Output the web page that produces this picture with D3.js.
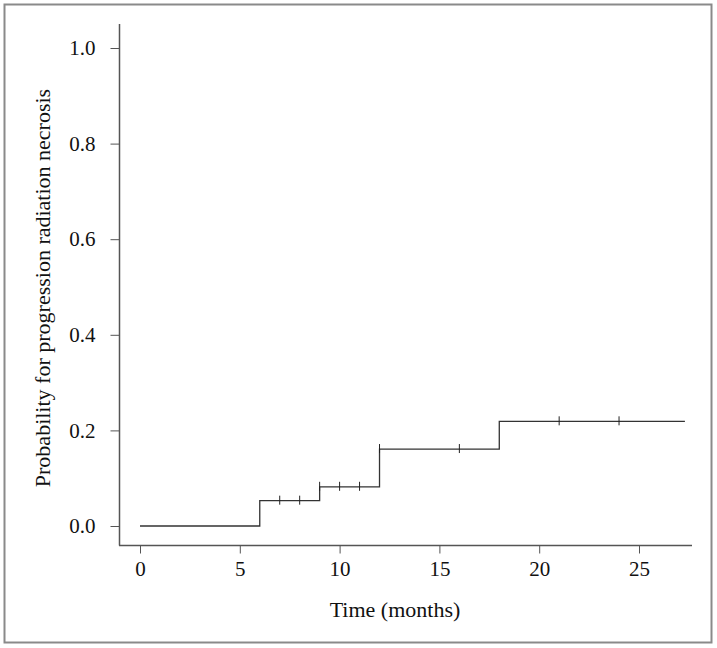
<!DOCTYPE html>
<html>
<head>
<meta charset="utf-8">
<script src="https://cdn.jsdelivr.net/npm/d3@7"></script>
<style>
  body { margin: 0; background: #fff; }
  text { font-family: "Liberation Serif", "Times New Roman", serif; fill: #111; }
</style>
</head>
<body>
<svg id="chart" width="717" height="648"></svg>
<script>
// step curve: time where each step starts, and the probability after it
const stepTimes = [0, 6, 9, 12, 18];
const stepProbs = [0, 0.053, 0.082, 0.161, 0.219];
const endTime = 27.3;

// censored observations (time)
const censorTimes = [7, 8, 9, 10, 11, 12, 16, 21, 24];

const xTicks = [0, 5, 10, 15, 20, 25];
const yTicks = [0, 0.2, 0.4, 0.6, 0.8, 1.0];

const svg = d3.select("#chart");

// outer frame
svg.append("rect")
  .attr("x", 4.5).attr("y", 4.5)
  .attr("width", 707).attr("height", 638)
  .attr("fill", "none").attr("stroke", "#8a8a8a").attr("stroke-width", 2);

const x = d3.scaleLinear().domain([0, 25]).range([140, 639]);
const y = d3.scaleLinear().domain([0, 1]).range([526, 48]);

const axisColor = "#555";

// axis lines (L shape)
svg.append("line")
  .attr("x1", 119.5).attr("x2", 119.5).attr("y1", 24).attr("y2", 545.5)
  .attr("stroke", axisColor).attr("stroke-width", 1.5);
svg.append("line")
  .attr("x1", 119).attr("x2", 692).attr("y1", 545.5).attr("y2", 545.5)
  .attr("stroke", axisColor).attr("stroke-width", 1.5);

// x axis
const xAxis = svg.append("g").attr("transform", "translate(0,545.5)")
  .call(d3.axisBottom(x).tickValues(xTicks).tickSize(8).tickPadding(8).tickFormat(d3.format("d")));
xAxis.select(".domain").remove();
xAxis.selectAll(".tick line").attr("stroke", axisColor);
xAxis.selectAll(".tick text").attr("font-size", 21).attr("fill", "#111")
  .style("font-family", "'Liberation Serif', serif");

// y axis
const yAxis = svg.append("g").attr("transform", "translate(119.5,0)")
  .call(d3.axisLeft(y).tickValues(yTicks).tickSize(9).tickPadding(15).tickFormat(d3.format(".1f")));
yAxis.select(".domain").remove();
yAxis.selectAll(".tick line").attr("stroke", axisColor);
yAxis.selectAll(".tick text").attr("font-size", 21).attr("fill", "#111")
  .style("font-family", "'Liberation Serif', serif");

// axis titles
svg.append("text")
  .attr("x", 395).attr("y", 617)
  .attr("text-anchor", "middle").attr("font-size", 22)
  .text("Time (months)");
svg.append("text")
  .attr("transform", "translate(50,288) rotate(-90)")
  .attr("text-anchor", "middle").attr("font-size", 22)
  .text("Probability for progression radiation necrosis");

// step line
const pts = stepTimes.map((t, i) => [t, stepProbs[i]]);
pts.push([endTime, stepProbs[stepProbs.length - 1]]);
const line = d3.line().x(d => x(d[0])).y(d => y(d[1])).curve(d3.curveStepAfter);
svg.append("path")
  .datum(pts)
  .attr("d", line)
  .attr("fill", "none").attr("stroke", "#333").attr("stroke-width", 1.3);

// censor marks
const probAt = t => {
  let p = 0;
  stepTimes.forEach((s, i) => { if (t >= s) p = stepProbs[i]; });
  return p;
};
svg.append("g").selectAll("line")
  .data(censorTimes)
  .join("line")
  .attr("x1", d => x(d)).attr("x2", d => x(d))
  .attr("y1", d => y(probAt(d)) - 5).attr("y2", d => y(probAt(d)) + 4)
  .attr("stroke", "#222").attr("stroke-width", 1);
</script>
</body>
</html>
